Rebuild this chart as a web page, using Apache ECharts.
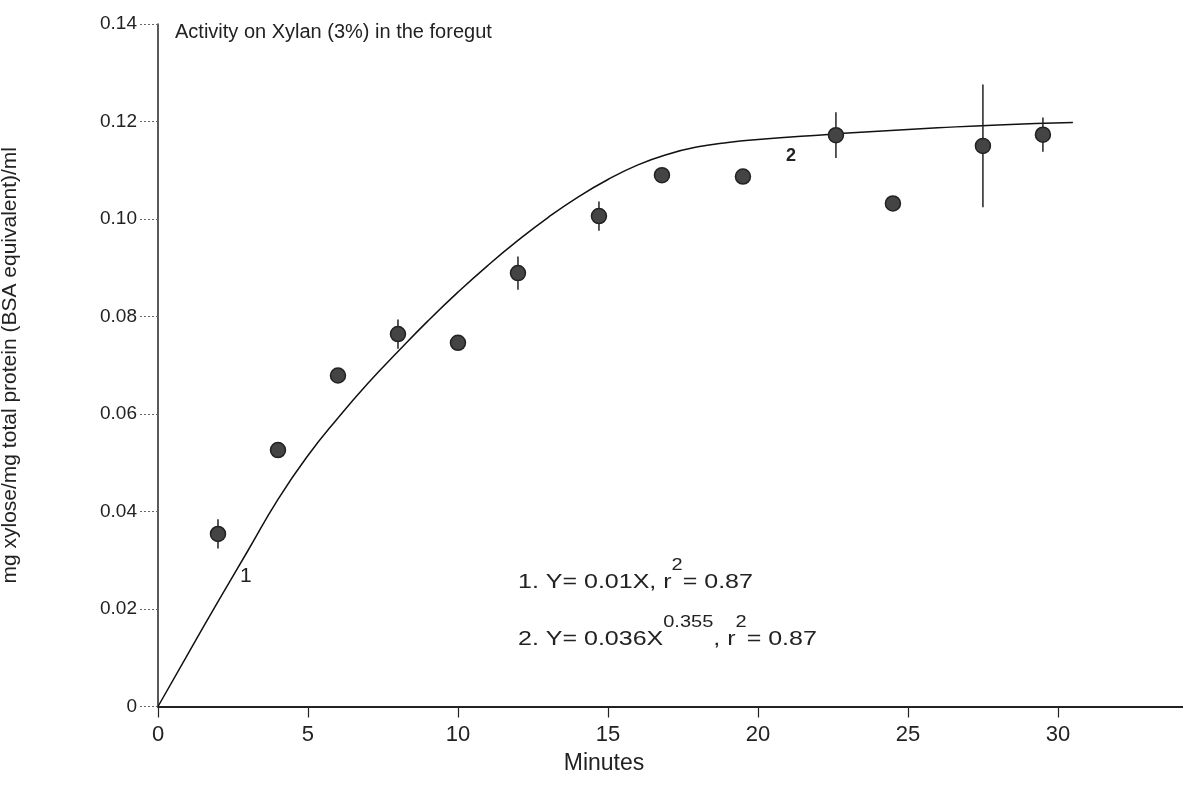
<!DOCTYPE html>
<html>
<head>
    <meta charset="UTF-8">
    <title>Activity on Xylan (3%) in the foregut</title>
    <script src="https://cdn.jsdelivr.net/npm/echarts@6/dist/echarts.min.js"></script>
    <style>
        html, body { margin: 0; padding: 0; background: #fff; }
        #main { width: 1183px; height: 787px; }
    </style>
</head>
<body>
<div id="main"></div>
<script type="text/javascript">
    // measured points (minutes, mg xylose / mg protein)
    var minutes = [2, 4, 6, 8, 10, 12, 14.7, 16.8, 19.5, 22.6, 24.5, 27.5, 29.5];
    var activity = [0.0354, 0.0526, 0.0679, 0.0764, 0.0746, 0.0889, 0.1006, 0.1090, 0.1087, 0.1172, 0.1032, 0.1150, 0.1173];
    // half length of error bar, 0 = none drawn
    var errors = [0.003, 0, 0, 0.003, 0, 0.0034, 0.003, 0, 0, 0.0047, 0, 0.0126, 0.0035];

    // fitted curve
    var curveX = [0, 1, 2, 3, 4, 5, 6, 7, 8, 9, 10, 11, 12, 13, 14, 15, 16, 17, 18, 19, 20, 22, 24, 26, 28, 30.5];
    var curveY = [0, 0.0108, 0.0215, 0.032, 0.0425, 0.0515, 0.0592, 0.0663, 0.0728, 0.0791, 0.085, 0.0905, 0.0956, 0.1003, 0.1045, 0.1081, 0.1111, 0.1133, 0.1148, 0.1157, 0.1163, 0.1172, 0.118, 0.1187, 0.1193, 0.1198];

    var xTicks = [0, 5, 10, 15, 20, 25, 30];
    var yTicks = [0, 0.02, 0.04, 0.06, 0.08, 0.10, 0.12, 0.14];

    var points = minutes.map(function (m, i) { return [m, activity[i]]; });
    var curve = curveX.map(function (m, i) { return [m, curveY[i]]; });
    var bars = [];
    minutes.forEach(function (m, i) {
        if (errors[i] > 0) bars.push([m, activity[i] - errors[i], activity[i] + errors[i]]);
    });

    var ink = '#222';
    var font = '"Liberation Sans", Arial, sans-serif';

    // rich text for the two fit equations (superscripts)
    var eqRich = {
        n: { fill: ink, fontSize: 20, fontFamily: font, lineHeight: 34, verticalAlign: 'bottom' },
        s: { fill: ink, fontSize: 16, fontFamily: font, lineHeight: 16, verticalAlign: 'top' }
    };

    var myChart = echarts.init(document.getElementById('main'));

    option = {
        animation: false,
        backgroundColor: '#fff',
        grid: { left: 158, right: 0, top: 24, bottom: 80.5, containLabel: false, outerBoundsMode: 'none' },
        xAxis: {
            type: 'value',
            min: 0,
            max: 34.17,
            interval: 5,
            axisLine: { lineStyle: { color: ink, width: 2 } },
            axisTick: { show: true, length: 11, lineStyle: { color: ink, width: 1.2 } },
            axisLabel: {
                showMaxLabel: false,
                color: ink, fontSize: 22, fontFamily: font, margin: 17,
                formatter: function (v) { return xTicks.indexOf(v) >= 0 ? String(v) : ''; }
            },
            splitLine: { show: false }
        },
        yAxis: {
            type: 'value',
            min: 0,
            max: 0.14,
            interval: 0.02,
            name: 'mg xylose/mg total protein (BSA equivalent)/ml',
            nameLocation: 'middle',
            nameGap: 137,
            nameTextStyle: { color: ink, fontSize: 21, fontFamily: font },
            axisLine: { show: true, lineStyle: { color: ink, width: 1.5 } },
            axisTick: { show: true, length: 18, lineStyle: { color: '#666', type: [2, 2], width: 1 } },
            axisLabel: {
                color: ink, fontSize: 19, fontFamily: font, margin: 21,
                formatter: function (v) {
                    var t = yTicks.filter(function (k) { return Math.abs(k - v) < 1e-9; });
                    if (!t.length) return '';
                    return v === 0 ? '0' : v.toFixed(2);
                }
            },
            splitLine: { show: false }
        },
        series: [
            {
                type: 'line',
                data: curve,
                smooth: true,
                showSymbol: false,
                lineStyle: { color: '#111', width: 1.5 },
                z: 2
            },
            {
                type: 'custom',
                data: bars,
                renderItem: function (params, api) {
                    var top = api.coord([api.value(0), api.value(2)]);
                    var bot = api.coord([api.value(0), api.value(1)]);
                    return {
                        type: 'line',
                        shape: { x1: top[0], y1: top[1], x2: bot[0], y2: bot[1] },
                        style: { stroke: '#222', lineWidth: 1.5 }
                    };
                },
                z: 3
            },
            {
                type: 'scatter',
                data: points,
                symbolSize: 15,
                itemStyle: { color: '#444', borderColor: '#222', borderWidth: 1.5, opacity: 1 },
                z: 4
            }
        ],
        graphic: [
            {
                type: 'text', left: 175, top: 22,
                style: { text: 'Activity on Xylan (3%) in the foregut', fill: ink, font: '20px ' + font }
            },
            {
                type: 'text', x: 604, y: 764,
                style: { text: 'Minutes', fill: ink, font: '23px ' + font, textAlign: 'center', textVerticalAlign: 'middle' }
            },
            {
                type: 'text', left: 240, top: 566,
                style: { text: '1', fill: ink, font: '21px ' + font }
            },
            {
                type: 'text', left: 786, top: 147,
                style: { text: '2', fill: ink, font: 'bold 18px ' + font }
            },
            {
                type: 'text', x: 518, y: 558, scaleX: 1.25,
                style: { text: '{n|1. Y= 0.01X, r}{s|2}{n|= 0.87}', rich: eqRich }
            },
            {
                type: 'text', x: 518, y: 615, scaleX: 1.25,
                style: { text: '{n|2. Y= 0.036X}{s|0.355}{n|, r}{s|2}{n|= 0.87}', rich: eqRich }
            }
        ]
    };
    myChart.setOption(option);
</script>
</body>
</html>
